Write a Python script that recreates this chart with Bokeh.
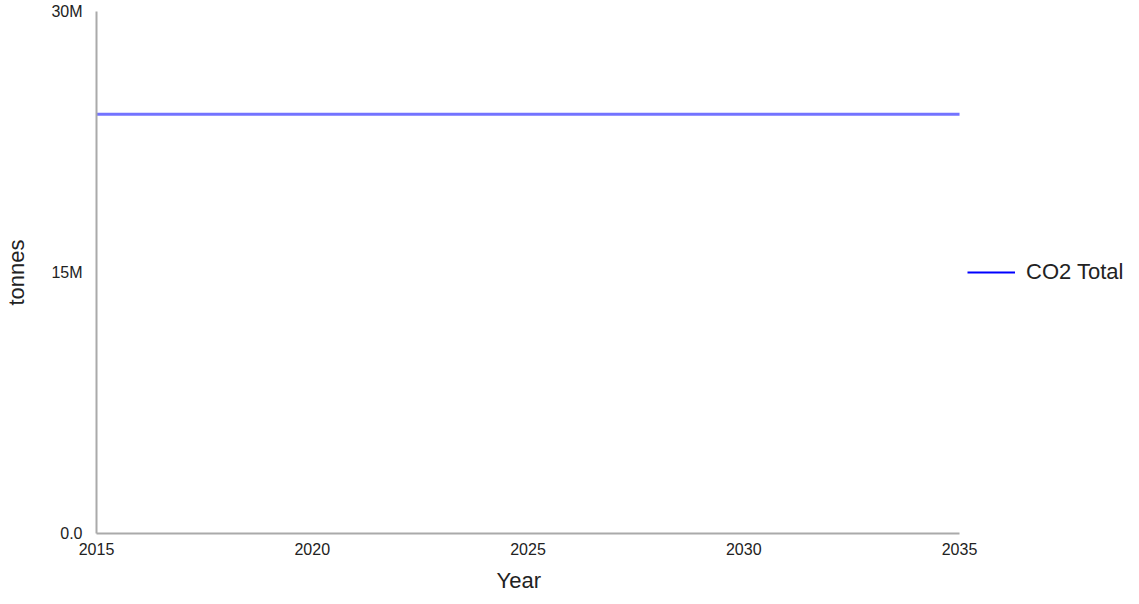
from bokeh.plotting import figure
from bokeh.models import Range1d, FixedTicker, Legend, LegendItem, Title
from bokeh.embed import file_html
from bokeh.resources import INLINE

years = [2015, 2016, 2017, 2018, 2019, 2020, 2021, 2022, 2023, 2024, 2025,
         2026, 2027, 2028, 2029, 2030, 2031, 2032, 2033, 2034, 2035]
co2_total = [24.1e6, 24.1e6, 24.1e6, 24.1e6, 24.1e6, 24.1e6, 24.1e6, 24.1e6,
             24.1e6, 24.1e6, 24.1e6, 24.1e6, 24.1e6, 24.1e6, 24.1e6, 24.1e6,
             24.1e6, 24.1e6, 24.1e6, 24.1e6, 24.1e6]
x_ticks = [2015, 2020, 2025, 2030, 2035]
y_ticks = [0, 15000000, 30000000]
y_tick_labels = ["0.0", "15M", "30M"]
series_name = "CO2 Total"
x_title = "Year"
y_title = "tonnes"

FONT = "Liberation Sans"

# frame extends past 2035 to leave room for the legend on the right;
# the axis lines are bounded to the data extent
p = figure(width=1123, height=602, output_backend="svg", toolbar_location=None,
           x_range=Range1d(2015, 2038.8), y_range=Range1d(0, 30e6),
           min_border_left=96, min_border_right=0, min_border_top=11,
           min_border_bottom=69)
p.outline_line_color = None
p.grid.visible = False
p.background_fill_color = "white"
p.border_fill_color = "white"

p.line(years, co2_total, line_color="#0000ff", line_alpha=0.55, line_width=3)
leg_r = p.line([float("nan"), float("nan")], [float("nan"), float("nan")],
               line_color="#0000ff", line_width=2)

for ax in (p.xaxis[0], p.yaxis[0]):
    ax.axis_line_color = "#aaaaaa"
    ax.axis_line_width = 2
    ax.major_tick_line_color = None
    ax.minor_tick_line_color = None
    ax.major_tick_out = 0
    ax.major_tick_in = 0
    ax.minor_tick_out = 0
    ax.major_label_text_font = FONT
    ax.major_label_text_font_size = "16px"
    ax.major_label_text_color = "#222222"
    ax.axis_label_text_font = FONT
    ax.axis_label_text_font_size = "22px"
    ax.axis_label_text_font_style = "normal"
    ax.axis_label_text_color = "#222222"

p.xaxis[0].ticker = FixedTicker(ticks=x_ticks)
p.xaxis[0].bounds = (2015, 2035)
p.xaxis[0].major_label_standoff = 9

p.yaxis[0].ticker = FixedTicker(ticks=y_ticks)
p.yaxis[0].major_label_overrides = {t: l for t, l in zip(y_ticks, y_tick_labels)}
p.yaxis[0].axis_label = y_title
p.yaxis[0].major_label_standoff = 14
p.yaxis[0].axis_label_standoff = 19

xt = Title(text=x_title, align="left", offset=400, standoff=17,
           text_font=FONT, text_font_size="22px", text_font_style="normal",
           text_color="#222222")
p.add_layout(xt, "below")

legend = Legend(items=[LegendItem(label=series_name, renderers=[leg_r])],
                location=(871, 248), orientation="vertical")
legend.border_line_color = None
legend.background_fill_alpha = 0
legend.margin = 0
legend.padding = 0
legend.glyph_width = 48
legend.label_standoff = 11
legend.label_text_font = FONT
legend.label_text_font_size = "22px"
legend.label_text_color = "#222222"
p.add_layout(legend)

open("out.html", "w").write(file_html(p, INLINE))
